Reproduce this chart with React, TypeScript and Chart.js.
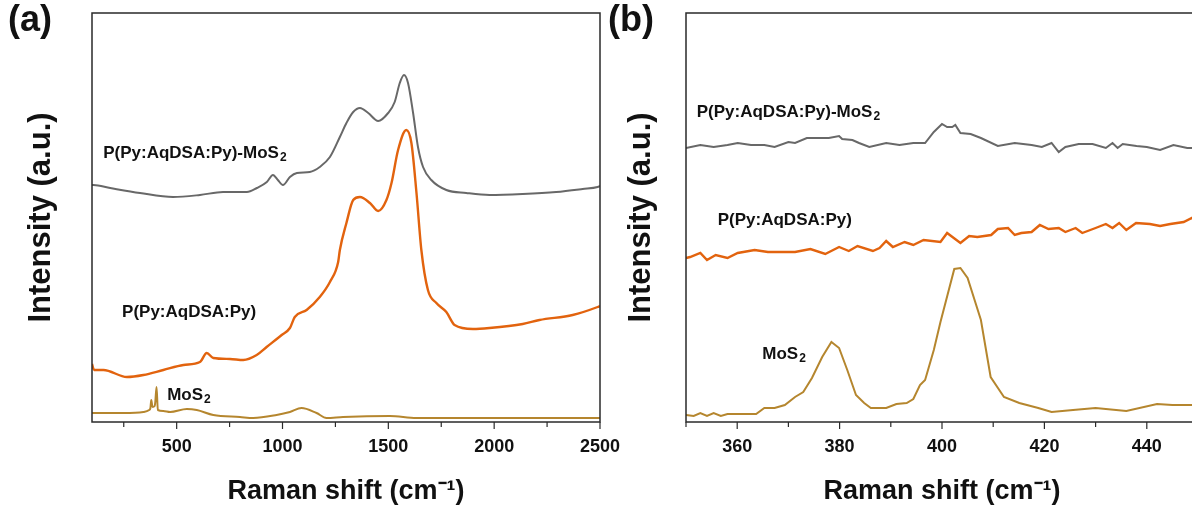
import React, { useEffect, useRef } from "react";
import { Chart, registerables } from "chart.js";
Chart.register(...registerables);

const FONT = '"Liberation Sans", Arial, sans-serif';

// ---------- Panel (a): 100–2500 cm-1 ----------
const grayA_x = [100, 107, 186, 327, 483, 610, 719, 832, 879, 926, 955, 978, 1002, 1035, 1068, 1129, 1176, 1224, 1271, 1302, 1334, 1366, 1405, 1452, 1499, 1530, 1554, 1574, 1593, 1617, 1640, 1664, 1703, 1774, 1868, 1978, 2135, 2293, 2418, 2489, 2500];
const grayA_y = [237, 237, 234, 229, 225, 227, 230, 230, 234, 240, 247, 242, 237, 245, 249, 250, 255, 265, 285, 299, 310, 314, 309, 301, 309, 320, 339, 347, 339, 309, 275, 255, 242, 232, 229, 227, 228, 230, 233, 235, 236];

const orangeA_x = [100, 110, 154, 265, 343, 437, 532, 610, 642, 673, 752, 815, 878, 925, 996, 1035, 1058, 1114, 1176, 1224, 1263, 1271, 1302, 1334, 1366, 1413, 1452, 1491, 1515, 1546, 1585, 1609, 1633, 1656, 1687, 1727, 1774, 1813, 1900, 1978, 2135, 2214, 2371, 2489, 2500];
const orangeA_y = [58, 52, 52, 45, 47, 52, 57, 60, 69, 64, 63, 62, 67, 75, 87, 94, 105, 112, 125, 140, 160, 172, 199, 222, 225, 219, 211, 222, 239, 272, 292, 279, 229, 172, 132, 119, 110, 97, 93, 94, 98, 102, 107, 115, 116];

const goldA_x = [100, 249, 343, 370, 376, 380, 386, 396, 399, 405, 411, 437, 469, 548, 595, 673, 799, 862, 972, 1035, 1090, 1161, 1208, 1286, 1507, 1633, 1978, 2500];
const goldA_y = [9, 9, 10, 12, 14, 22, 15, 16, 20, 35, 12, 11, 10, 13, 12, 7, 5, 4, 7, 10, 14, 9, 4, 5, 6, 4, 4, 4];

// ---------- Panel (b): 350–450 cm-1 ----------
const grayB_x = [350, 352.8, 355.4, 358.1, 360.1, 362.7, 365.3, 367.3, 370, 371.3, 373.6, 375.9, 377.9, 379.9, 380.5, 382.5, 383.8, 385.8, 389.1, 391.7, 394.4, 396.7, 398.4, 400, 401, 402, 402.6, 403.6, 405.6, 407.6, 410.9, 414.2, 417.5, 419.5, 421.4, 422.8, 424.1, 426.7, 429.4, 432, 433.3, 434.3, 435.3, 438, 440, 442.6, 445.2, 447.9, 450];
const grayB_y = [274, 277, 275, 277, 279, 277, 277, 275, 280, 279, 284, 284, 284, 286, 283, 282, 279, 275, 279, 277, 279, 279, 290, 298, 295, 295, 297, 289, 288, 284, 276, 279, 277, 275, 279, 270, 275, 278, 278, 274, 279, 274, 278, 276, 275, 272, 277, 274, 274];

const orangeB_x = [350, 350.8, 352.8, 354.1, 355.8, 358.1, 360.1, 363.4, 366, 371.3, 374.3, 377.2, 379.9, 381.8, 383.5, 386.5, 387.8, 389.1, 390.4, 392.7, 394.4, 396.4, 399.7, 401, 402.3, 403.6, 405.3, 406.9, 409.6, 410.9, 412.9, 414.2, 415.5, 417.5, 419.1, 420.8, 422.8, 424.1, 426.1, 427.4, 430, 432, 433.3, 434.6, 436, 437.9, 440.6, 442.6, 444.6, 447.2, 448.8, 450];
const orangeB_y = [164, 165, 169, 162, 167, 164, 169, 172, 170, 170, 173, 168, 175, 171, 176, 171, 174, 181, 175, 180, 177, 182, 180, 189, 184, 179, 186, 185, 187, 193, 194, 187, 189, 190, 197, 193, 194, 190, 194, 189, 194, 198, 194, 199, 192, 199, 198, 196, 198, 200, 204, 199];

const goldB_x = [350, 351.5, 352.8, 354.1, 355.4, 356.8, 358.1, 360.7, 363.7, 365.3, 367.3, 369.3, 371.3, 372.9, 374.6, 376.6, 378.4, 379.9, 381.5, 383.2, 384.8, 386.1, 389.1, 391.1, 393.1, 394.4, 395.7, 396.7, 398.4, 399.7, 402.4, 403.6, 405, 407.6, 409.5, 412.1, 415.1, 418.8, 421.4, 425.6, 430, 436, 442, 445, 449.5, 450];
const goldB_y = [7, 6, 9, 6, 9, 6, 8, 8, 8, 14, 14, 17, 25, 30, 44, 65, 80, 74, 52, 27, 19, 14, 14, 18, 19, 23, 37, 42, 72, 100, 153, 154, 144, 102, 45, 25, 19, 14, 10, 12, 14, 11, 18, 17, 17, 17];

const GRAY = "#686868";
const ORANGE = "#e2630e";
const GOLD = "#b5862e";

const pts = (xs: number[], ys: number[]) => xs.map((x, i) => ({ x, y: ys[i] }));

const framePlugin = {
  id: "frameAnnot",
  afterDraw(chart: any, _args: any, opts: any) {
    const { ctx, chartArea } = chart;
    const { left, right, top, bottom } = chartArea;
    const xs = chart.scales.x;
    ctx.save();
    ctx.strokeStyle = "#2a2a2a";
    ctx.lineWidth = 1.5;
    ctx.strokeRect(left, top, right - left, bottom - top);
    ctx.lineWidth = 1.2;
    for (const t of xs.ticks) {
      const px = xs.getPixelForValue(t.value);
      const major = opts.isMajor(t.value);
      ctx.beginPath();
      ctx.moveTo(px, bottom);
      ctx.lineTo(px, bottom + (major ? 7 : 5));
      ctx.stroke();
    }
    ctx.fillStyle = "#111";
    ctx.textBaseline = "middle";
    ctx.textAlign = "left";
    for (const a of opts.items) {
      const x = xs.getPixelForValue(a.x);
      const y = chart.scales.y.getPixelForValue(a.y);
      ctx.font = `bold 17px ${FONT}`;
      ctx.fillText(a.text, x, y);
      if (a.sub) {
        const w = ctx.measureText(a.text).width;
        ctx.font = `bold 12px ${FONT}`;
        ctx.fillText(a.sub, x + w + 1, y + 5);
      }
    }
    ctx.font = `bold 36px ${FONT}`;
    ctx.textBaseline = "top";
    ctx.fillText(opts.panel, 8, 3);
    ctx.restore();
  },
};

function makeConfig(p: any) {
  return {
    type: "line",
    data: {
      datasets: [
        { data: pts(p.gx, p.gy), borderColor: GRAY, borderWidth: 2 },
        { data: pts(p.ox, p.oy), borderColor: ORANGE, borderWidth: 2.4 },
        { data: pts(p.dx, p.dy), borderColor: GOLD, borderWidth: 2 },
      ],
    },
    options: {
      animation: false,
      responsive: false,
      layout: { padding: { top: 13, right: p.padRight, left: 0, bottom: 0 } },
      elements: {
        point: { radius: 0 },
        line: { tension: 0, cubicInterpolationMode: p.smooth ? "monotone" : "default" },
      },
      plugins: {
        legend: { display: false },
        tooltip: { enabled: false },
        frameAnnot: { items: p.items, panel: p.panel, isMajor: p.isMajor },
      },
      scales: {
        x: {
          type: "linear",
          min: p.xmin,
          max: p.xmax,
          afterFit: (s: any) => { s.height = 90; },
          grid: { display: false },
          border: { display: false },
          ticks: {
            stepSize: p.step,
            includeBounds: false,
            autoSkip: false,
            maxRotation: 0,
            padding: 6,
            color: "#111",
            font: { family: FONT, size: 18, weight: "bold" },
            callback: (v: number) => (p.isMajor(v) ? String(v) : ""),
          },
          title: {
            display: true,
            text: "Raman shift (cm\u207B\u00B9)",
            color: "#111",
            font: { family: FONT, size: 27, weight: "bold" },
            padding: { top: 0, bottom: 4 },
          },
        },
        y: {
          min: 0,
          max: 409,
          afterFit: (s: any) => { s.width = p.yWidth; },
          grid: { display: false },
          border: { display: false },
          ticks: { display: false },
          title: {
            display: true,
            text: "Intensity (a.u.)",
            color: "#111",
            font: { family: FONT, size: 31, weight: "bold" },
            padding: { top: 23, bottom: 0 },
          },
        },
      },
    },
    plugins: [framePlugin],
  };
}

const panelA = {
  gx: grayA_x, gy: grayA_y, ox: orangeA_x, oy: orangeA_y, dx: goldA_x, dy: goldA_y,
  xmin: 100, xmax: 2500, step: 250, yWidth: 92, padRight: 40, panel: "(a)", smooth: true,
  isMajor: (v: number) => v % 500 === 0,
  items: [
    { text: "P(Py:AqDSA:Py)-MoS", sub: "2", x: 153, y: 269 },
    { text: "P(Py:AqDSA:Py)", sub: "", x: 242, y: 110 },
    { text: "MoS", sub: "2", x: 455, y: 27 },
  ],
};

const panelB = {
  gx: grayB_x, gy: grayB_y, ox: orangeB_x, oy: orangeB_y, dx: goldB_x, dy: goldB_y,
  xmin: 350, xmax: 450, step: 10, yWidth: 86, padRight: 0, panel: "(b)", smooth: false,
  isMajor: (v: number) => v % 20 === 0 && v > 350 && v < 450,
  items: [
    { text: "P(Py:AqDSA:Py)-MoS", sub: "2", x: 352.1, y: 310 },
    { text: "P(Py:AqDSA:Py)", sub: "", x: 356.2, y: 202 },
    { text: "MoS", sub: "2", x: 364.9, y: 68 },
  ],
};

function Panel({ cfg, left, width }: { cfg: any; left: number; width: number }) {
  const ref = useRef<HTMLCanvasElement>(null);
  useEffect(() => {
    const chart = new Chart(ref.current as HTMLCanvasElement, makeConfig(cfg) as any);
    return () => chart.destroy();
  }, []);
  return (
    <canvas
      ref={ref}
      width={width}
      height={512}
      style={{ position: "absolute", left, top: 0, width, height: 512 }}
    />
  );
}

export default function App() {
  return (
    <div style={{ position: "absolute", left: 0, top: 0, width: 1192, height: 512, background: "#fff", overflow: "hidden" }}>
      <Panel cfg={panelA} left={0} width={640} />
      <Panel cfg={panelB} left={600} width={604} />
    </div>
  );
}
